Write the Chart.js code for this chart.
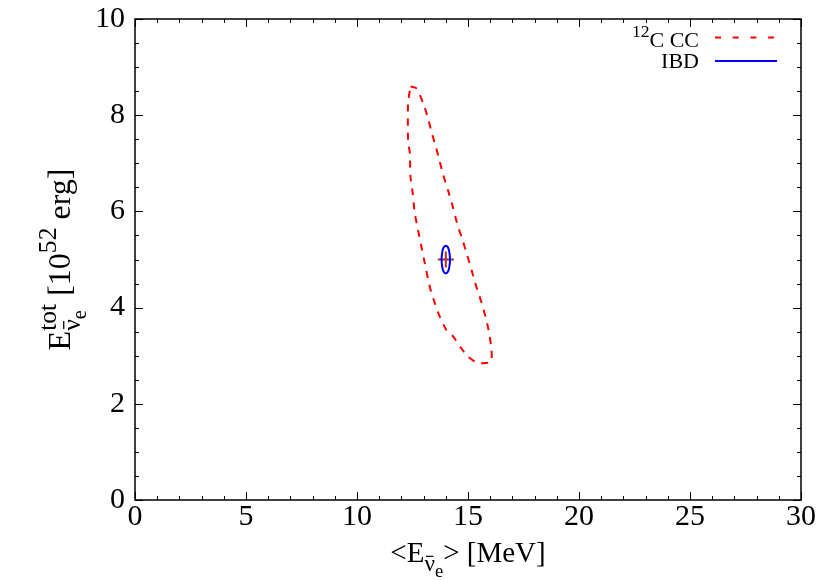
<!DOCTYPE html>
<html>
<head>
<meta charset="utf-8">
<script src="https://cdn.jsdelivr.net/npm/chart.js@4/dist/chart.umd.min.js"></script>
<style>
html,body{margin:0;padding:0;background:#fff;}
#wrap{width:830px;height:581px;position:relative;}
</style>
</head>
<body>
<div id="wrap"><canvas id="c" width="830" height="581"></canvas></div>
<script>
// ---- data ----
const c12Label = '12C CC';
const c12X = [12.41,12.68,12.98,13.20,13.35,13.55,13.73,13.88,14.10,14.33,14.55,14.71,14.93,15.16,15.38,15.61,15.83,15.95,16.06,16.03,15.44,15.00,14.64,14.33,14.03,13.73,13.50,13.28,13.05,12.90,12.75,12.60,12.51,12.41,12.38,12.30,12.30,12.41];
const c12Y = [8.60,8.56,8.25,7.94,7.66,7.35,7.03,6.76,6.44,6.07,5.68,5.47,5.14,4.78,4.43,4.10,3.74,3.47,3.12,2.87,2.85,2.98,3.19,3.40,3.53,3.81,4.10,4.43,4.93,5.27,5.61,5.97,6.38,6.72,7.21,7.48,8.25,8.60];
const ibdLabel = 'IBD';
const ibdX = [14.00,14.10,14.16,14.19,14.16,14.10,14.00,13.90,13.84,13.81,13.84,13.90,14.00];
const ibdY = [5.29,5.25,5.15,5.00,4.85,4.75,4.71,4.75,4.85,5.00,5.15,5.25,5.29];
const bestX = [14.0];
const bestY = [5.0];
const xRange = [0, 30];
const yRange = [0, 10];
const xMajor = 5, xMinor = 1;
const yMajor = 2, yMinor = 0.5;

const FONT = '"Liberation Serif","Times New Roman",serif';
const pts = (xs, ys) => xs.map((x, i) => ({x: x, y: ys[i]}));

// rich text helper: items {t, s, dy, bar} or {stack:[[items],[items]]}
function layoutRich(ctx, items, base) {
  const out = []; let x = 0;
  function place(list, x0) {
    let xx = x0;
    for (const it of list) {
      const size = base * (it.s || 1);
      ctx.font = size + 'px ' + FONT;
      const w = ctx.measureText(it.t).width;
      out.push({t: it.t, size: size, x: xx, dy: (it.dy || 0) * base, w: w, bar: it.bar});
      xx += w;
    }
    return xx - x0;
  }
  for (const it of items) {
    if (it.stack) {
      let m = 0;
      for (const l of it.stack) m = Math.max(m, place(l, x));
      x += m;
    } else x += place([it], x);
  }
  return {runs: out, width: x};
}
function drawRich(ctx, items, base, cx, cy, align) {
  const L = layoutRich(ctx, items, base);
  let x0 = align === 'right' ? cx - L.width : (align === 'left' ? cx : cx - L.width / 2);
  ctx.textBaseline = 'alphabetic'; ctx.textAlign = 'left'; ctx.fillStyle = '#000';
  for (const r of L.runs) {
    ctx.font = r.size + 'px ' + FONT;
    ctx.fillText(r.t, x0 + r.x, cy + r.dy);
    if (r.bar) {
      ctx.save(); ctx.strokeStyle = '#000'; ctx.lineWidth = Math.max(1, r.size * 0.05);
      const by = cy + r.dy - r.size * 0.62;
      ctx.beginPath(); ctx.moveTo(x0 + r.x + r.w * 0.15, by); ctx.lineTo(x0 + r.x + r.w * 0.85, by); ctx.stroke();
      ctx.restore();
    }
  }
}

const framePlugin = {
  id: 'frame',
  afterDraw(chart) {
    const ctx = chart.ctx, a = chart.chartArea;
    const xs = chart.scales.x, ys = chart.scales.y;
    ctx.save();
    ctx.strokeStyle = '#000'; ctx.lineWidth = 1.5;
    ctx.strokeRect(a.left, a.top, a.right - a.left, a.bottom - a.top);
    ctx.lineWidth = 1;
    ctx.beginPath();
    for (let v = xRange[0]; v <= xRange[1] + 1e-9; v += xMinor) {
      const p = Math.round(xs.getPixelForValue(v)) + 0.5;
      const len = (Math.abs(v / xMajor - Math.round(v / xMajor)) < 1e-6) ? 8 : 4;
      ctx.moveTo(p, a.bottom); ctx.lineTo(p, a.bottom - len);
      ctx.moveTo(p, a.top); ctx.lineTo(p, a.top + len);
    }
    for (let v = yRange[0]; v <= yRange[1] + 1e-9; v += yMinor) {
      const p = Math.round(ys.getPixelForValue(v)) + 0.5;
      const len = (Math.abs(v / yMajor - Math.round(v / yMajor)) < 1e-6) ? 8 : 4;
      ctx.moveTo(a.left, p); ctx.lineTo(a.left + len, p);
      ctx.moveTo(a.right, p); ctx.lineTo(a.right - len, p);
    }
    ctx.stroke();

    // axis titles
    const xTitle = [
      {t: '<E'},
      {stack: [[{t: 'ν', s: 0.8, dy: 0.3, bar: true}, {t: 'e', s: 0.64, dy: 0.5}]]},
      {t: '> [MeV]'}
    ];
    drawRich(ctx, xTitle, 29, (a.left + a.right) / 2, 562, 'center');
    const yTitle = [
      {t: 'E'},
      {stack: [[{t: 'tot', s: 0.8, dy: -0.45}], [{t: 'ν', s: 0.8, dy: 0.3, bar: true}, {t: 'e', s: 0.64, dy: 0.5}]]},
      {t: ' [10'},
      {t: '52', s: 0.8, dy: -0.45},
      {t: ' erg]'}
    ];
    ctx.save();
    ctx.translate(70, (a.top + a.bottom) / 2);
    ctx.rotate(-Math.PI / 2);
    drawRich(ctx, yTitle, 32, 0, 0, 'center');
    ctx.restore();

    // legend (from dataset styles)
    const ds = chart.data.datasets;
    const rows = [
      {items: [{t: '12', s: 0.8, dy: -0.45}, {t: 'C CC'}], d: ds[0], ty: 47, ly: 37.5, dash: [6, 11.7]},
      {items: [{t: ds[1].label}], d: ds[1], ty: 68, ly: 61, dash: []}
    ];
    for (const r of rows) {
      drawRich(ctx, r.items, 22, 699, r.ty, 'right');
      ctx.save();
      ctx.strokeStyle = r.d.borderColor; ctx.lineWidth = r.d.borderWidth;
      ctx.setLineDash(r.dash);
      ctx.beginPath(); ctx.moveTo(715, r.ly); ctx.lineTo(777, r.ly); ctx.stroke();
      ctx.restore();
    }
    ctx.restore();
  }
};

new Chart(document.getElementById('c'), {
  type: 'scatter',
  data: {
    datasets: [
      {label: c12Label, data: pts(c12X, c12Y), showLine: true, borderColor: '#ff0000', borderWidth: 2, borderDash: [7, 7], pointRadius: 0, tension: 0.2, order: 2},
      {label: ibdLabel, data: pts(ibdX, ibdY), showLine: true, borderColor: '#0000ff', borderWidth: 2, pointRadius: 0, tension: 0.4, order: 0},
      {label: 'best', data: pts(bestX, bestY), showLine: false, pointStyle: 'cross', pointRadius: 8, borderColor: '#a8322d', borderWidth: 2, backgroundColor: '#a8322d', order: 1}
    ]
  },
  options: {
    responsive: false,
    animation: false,
    devicePixelRatio: 1,
    layout: {padding: {top: 19, right: 29, left: 0, bottom: 0}},
    plugins: {legend: {display: false}, tooltip: {enabled: false}},
    scales: {
      x: {
        type: 'linear', min: xRange[0], max: xRange[1],
        grid: {display: false, drawTicks: false},
        border: {display: false},
        ticks: {stepSize: xMajor, padding: -1, color: '#000', font: {family: FONT, size: 30}, maxRotation: 0},
        afterFit(s) { s.height = 81; s.paddingLeft = 0; s.paddingRight = 0; }
      },
      y: {
        type: 'linear', min: yRange[0], max: yRange[1],
        grid: {display: false, drawTicks: false},
        border: {display: false},
        ticks: {stepSize: yMajor, padding: 10, color: '#000', font: {family: FONT, size: 30}},
        afterFit(s) { s.width = 135; s.paddingTop = 0; s.paddingBottom = 0; }
      }
    }
  },
  plugins: [framePlugin]
});
</script>
</body>
</html>
